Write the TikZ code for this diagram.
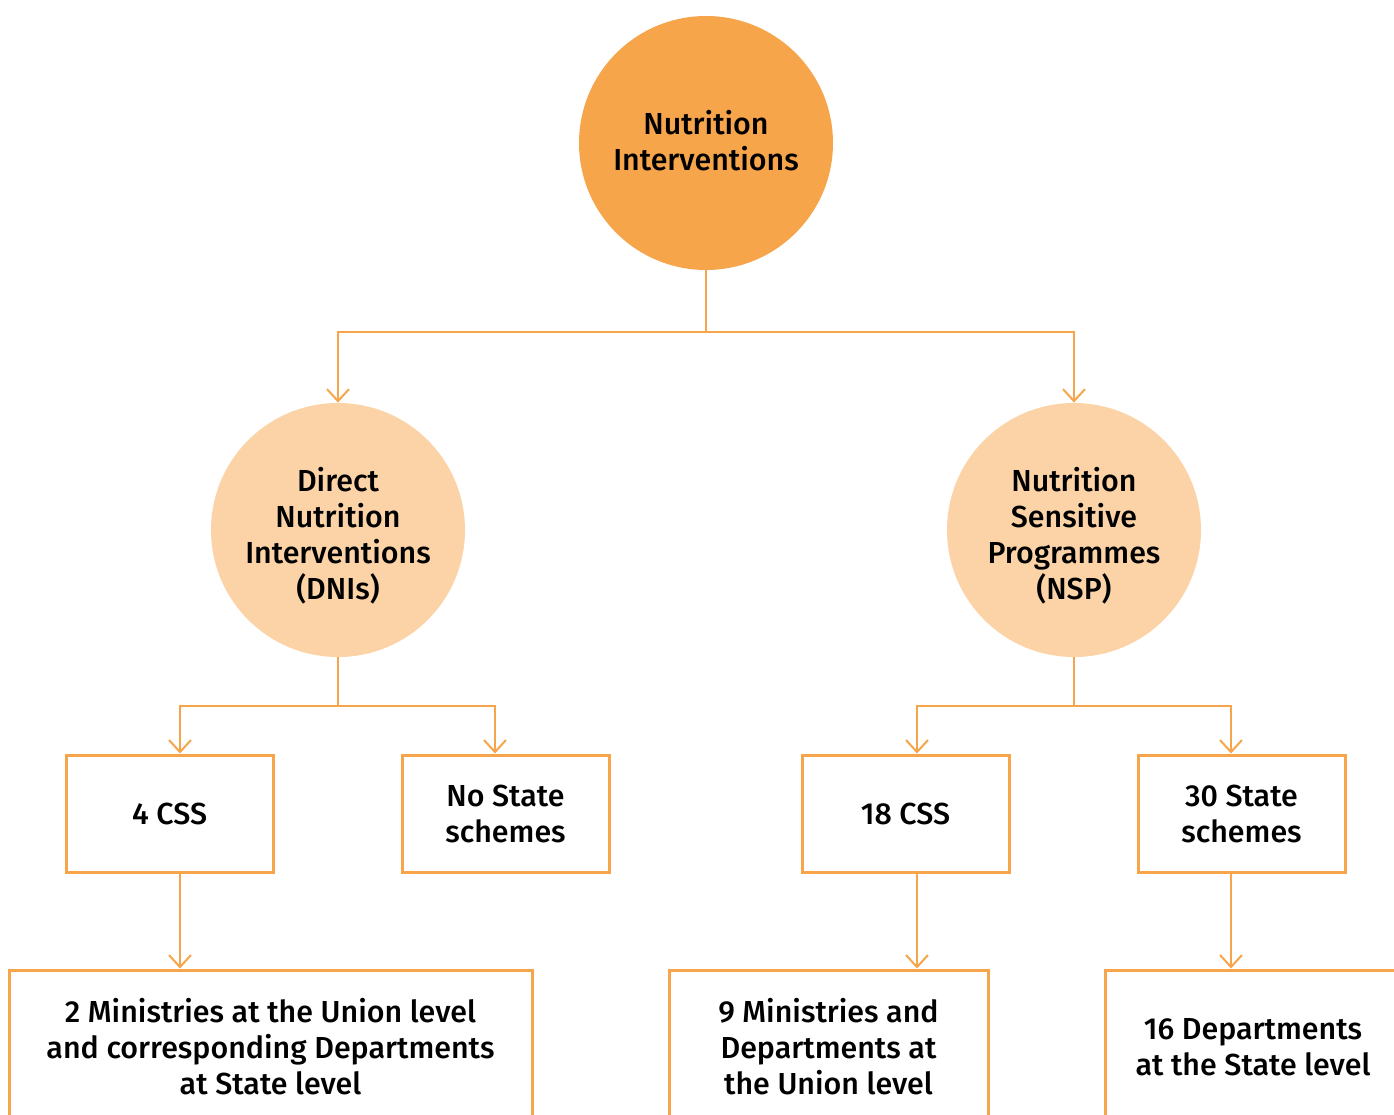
\documentclass[tikz,border=0pt]{standalone}
\usepackage{fontspec}
\setmainfont{Fira Sans Medium}
\usepackage{tikz}
\usetikzlibrary{arrows.meta}

\definecolor{nutorange}{HTML}{F7A54B}
\definecolor{nutpale}{HTML}{FBD3A6}

\tikzset{
  bigcirc/.style={circle, fill=nutorange, minimum size=127pt, inner sep=0pt, align=center},
  subcirc/.style={circle, fill=nutpale, minimum size=127pt, inner sep=0pt},
  circtext/.style={align=center, inner sep=0pt},
  schemebox/.style={draw=nutorange, line width=1.5pt, minimum width=103.5pt, minimum height=58.5pt, align=center},
  levelbox/.style={draw=nutorange, line width=1.5pt, minimum height=77pt, align=center},
  link/.style={draw=nutorange, line width=1pt},
  arr/.style={link, -{Straight Barb[length=6pt,width=11pt,line width=1pt]}},
}

\begin{document}
\begin{tikzpicture}[x=0.5pt, y=-0.5pt, font=\fontsize{15.2}{18}\selectfont]
      \useasboundingbox (0,0) rectangle (1394,1115);
      \clip (0,0) rectangle (1394,1115);

      \node[bigcirc] (ni) at (706,143) {};
      \node[circtext] (nitext) at (706,141) {Nutrition\\Interventions};
      \node[subcirc] (dni) at (338,530) {};
      \node[circtext] (dnitext) at (338,536) {Direct\\Nutrition\\Interventions\\(DNIs)};
      \node[subcirc] (nsp) at (1074,530) {};
      \node[circtext] (nsptext) at (1074,536) {Nutrition\\Sensitive\\Programmes\\(NSP)};

      \node[schemebox] (dnicss) at (169.5,813.5) {4 CSS};
      \node[schemebox] (dnistate) at (505.5,813.5) {No State\\schemes};
      \node[schemebox] (nspcss) at (905.5,813.5) {18 CSS};
      \node[schemebox] (nspstate) at (1241.5,813.5) {30 State\\schemes};

      \node[levelbox, minimum width=261.5pt] (dnimin) at (270.5,1047) {2 Ministries at the Union level\\and corresponding Departments\\at State level};
      \node[levelbox, minimum width=159.5pt] (nspmin) at (828.5,1047) {9 Ministries and\\Departments at\\the Union level};
      \node[levelbox, minimum width=300pt] (nspdept) at (1405,1047) {};
      \node[align=center] (nspdepttext) at (1253,1047) {16 Departments\\at the State level};

      % branching points
      \coordinate (nij) at (706,332);
      \coordinate (dnij) at (338,706);
      \coordinate (nspj) at (1074,706);

      \draw[link] (ni) -- (nij);
      \draw[arr] (nij) -| (dni.north);
      \draw[arr] (nij) -| (nsp.north);

      \draw[link] (dni) -- (dnij);
      \draw[arr] (dnij) -| ([xshift=5.25pt]dnicss.north);
      \draw[arr] (dnij) -| ([xshift=-5.25pt]dnistate.north);
      \draw[link] (nsp) -- (nspj);
      \draw[arr] (nspj) -| ([xshift=5.75pt]nspcss.north);
      \draw[arr] (nspj) -| ([xshift=-5.25pt]nspstate.north);

      \draw[arr] ([xshift=5.25pt]dnicss.south) -- ([xshift=5.25pt]dnicss.south |- dnimin.north);
      \draw[arr] ([xshift=5.75pt]nspcss.south) -- ([xshift=5.75pt]nspcss.south |- nspmin.north);
      \draw[arr] ([xshift=-5.25pt]nspstate.south) -- ([xshift=-5.25pt]nspstate.south |- nspdept.north);
    \end{tikzpicture}
\end{document}
